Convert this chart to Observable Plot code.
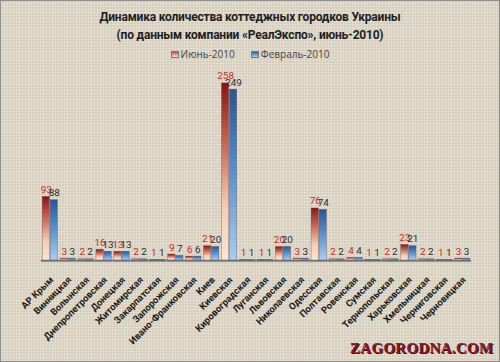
<!DOCTYPE html>
<html>
<head>
<meta charset="utf-8">
<script src="https://cdn.jsdelivr.net/npm/d3@7"></script>
<script src="https://cdn.jsdelivr.net/npm/@observablehq/plot@0.6"></script>
<style>
  html, body { margin: 0; padding: 0; }
  #wrap {
    position: relative; width: 500px; height: 362px; box-sizing: border-box;
    border: 1px solid #8c8c8c;
    background-color: #e4dccb;
    background-image:
      repeating-linear-gradient(0deg, rgba(255,255,255,0.10) 0 1px, rgba(0,0,0,0.03) 1px 3px),
      repeating-linear-gradient(90deg, rgba(255,255,255,0.10) 0 1px, rgba(0,0,0,0.03) 1px 3px);
    overflow: hidden;
    font-family: "Open Sans", sans-serif;
  }
  #title { position: absolute; left: 0; top: 7px; width: 100%; text-align: center;
    font-family: Roboto, sans-serif; font-weight: 700; font-size: 12px; letter-spacing: -0.2px; line-height: 18px; color: #1e1e1e; }
  #legend { position: absolute; left: 0; top: 46px; width: 100%; text-align: center;
    font-size: 10px; color: #444; }
  #legend span.item { margin: 0 8px; }
  #legend span.sw { display: inline-block; width: 8px; height: 7px; margin-right: 2px; border: 1px solid #777; box-sizing: border-box; }
  #chart { position: absolute; left: 0; top: 60px; }
  #wm { position: absolute; left: 349px; top: 339px; font-family: "Liberation Serif", serif; font-weight: 700;
    font-size: 15px; letter-spacing: 0.3px; color: #8a1525; text-shadow: 1px 1px 0 #3a0a10; }
</style>
</head>
<body>
<div id="wrap">
  <div id="title">Динамика количества коттеджных городков Украины<br>(по данным компании «РеалЭкспо», июнь-2010)</div>
  <div id="legend"></div>
  <div id="chart"></div>
  <div id="wm">ZAGORODNA.COM</div>
</div>
<script>
const regions = ["АР Крым","Винницкая","Волынская","Днепропетровская","Донецкая","Житомирская","Закарпатская","Запорожская","Ивано-Франковская","Киев","Киевская","Кировоградская","Луганская","Львовская","Николаевская","Одесская","Полтавская","Ровенская","Сумская","Тернопольская","Харьковская","Хмельницкая","Черниговская","Черновицкая"];
const june = [93,3,2,16,13,2,1,9,6,21,258,1,1,20,3,76,2,4,1,2,23,2,1,3];
const feb  = [88,3,2,13,13,2,1,7,6,20,249,1,1,20,3,74,2,4,1,2,21,2,1,3];
const seriesNames = ["Июнь-2010","Февраль-2010"];

const rows = regions.flatMap((r, i) => [
  {region: r, series: seriesNames[0], value: june[i]},
  {region: r, series: seriesNames[1], value: feb[i]}
]);

// legend
const lg = document.getElementById("legend");
lg.innerHTML =
  `<span class="item"><span class="sw" style="background:linear-gradient(#c0504d,#fbe3d0)"></span>${seriesNames[0]}</span>` +
  `<span class="item"><span class="sw" style="background:linear-gradient(#2f5f9e,#a9cdf2)"></span>${seriesNames[1]}</span>`;

const numFont = "Roboto, sans-serif";

const svg = Plot.plot({
  width: 500, height: 302,
  marginTop: 22, marginBottom: 102, marginLeft: 34, marginRight: 22,
  style: {background: "transparent", fontFamily: "Roboto", fontSize: "10px", color: "#111", overflow: "visible"},
  fx: {domain: regions, paddingInner: 0.1, paddingOuter: 0.05, label: null, axis: null},
  x: {domain: seriesNames, axis: null, padding: 0},
  y: {domain: [0, 258], axis: null},
  color: {domain: seriesNames, range: ["url(#gJune)", "url(#gFeb)"]},
  marks: [
    Plot.barY(rows, {fx: "region", x: "series", y: "value", fill: "series", insetLeft: 0.3, insetRight: 0.3, stroke: "#6b5a55", strokeWidth: 0.4}),
    Plot.ruleY([0], {stroke: "#55606c", strokeWidth: 2, strokeLinecap: "square", strokeOpacity: 0.8}),
    Plot.text(regions, {fx: d => d, text: d => d, frameAnchor: "bottom", lineAnchor: "top", rotate: -45, textAnchor: "end", dy: 15, dx: -1, fontSize: 9.5, fontWeight: 700, fill: "#1a1a1a", fontFamily: "Roboto"}),
    Plot.text(rows.filter(d => d.series === seriesNames[0]), {fx: "region", x: "series", y: "value", text: "value", lineAnchor: "bottom", dy: -4, fill: "#c0302a", fontSize: 10, fontWeight: 400, fontFamily: numFont, letterSpacing: "-0.3px"}),
    Plot.text(rows.filter(d => d.series === seriesNames[1]), {fx: "region", x: "series", y: "value", text: "value", lineAnchor: "bottom", dy: -4, fill: "#2b2b2b", fontSize: 10, fontWeight: 400, fontFamily: numFont, letterSpacing: "-0.3px"})
  ]
});

const defs = d3.select(svg).insert("defs", ":first-child");
const g1 = defs.append("linearGradient").attr("id", "gJune").attr("x1", 0).attr("y1", 0).attr("x2", 0).attr("y2", 1);
g1.append("stop").attr("offset", "0%").attr("stop-color", "#861616");
g1.append("stop").attr("offset", "30%").attr("stop-color", "#c25b4e");
g1.append("stop").attr("offset", "70%").attr("stop-color", "#f4cdb4");
g1.append("stop").attr("offset", "100%").attr("stop-color", "#fbe6d4");
const g2 = defs.append("linearGradient").attr("id", "gFeb").attr("x1", 0).attr("y1", 0).attr("x2", 0).attr("y2", 1);
g2.append("stop").attr("offset", "0%").attr("stop-color", "#2a5590");
g2.append("stop").attr("offset", "40%").attr("stop-color", "#4f86c6");
g2.append("stop").attr("offset", "100%").attr("stop-color", "#a9cdf2");

document.getElementById("chart").appendChild(svg);
</script>
</body>
</html>
